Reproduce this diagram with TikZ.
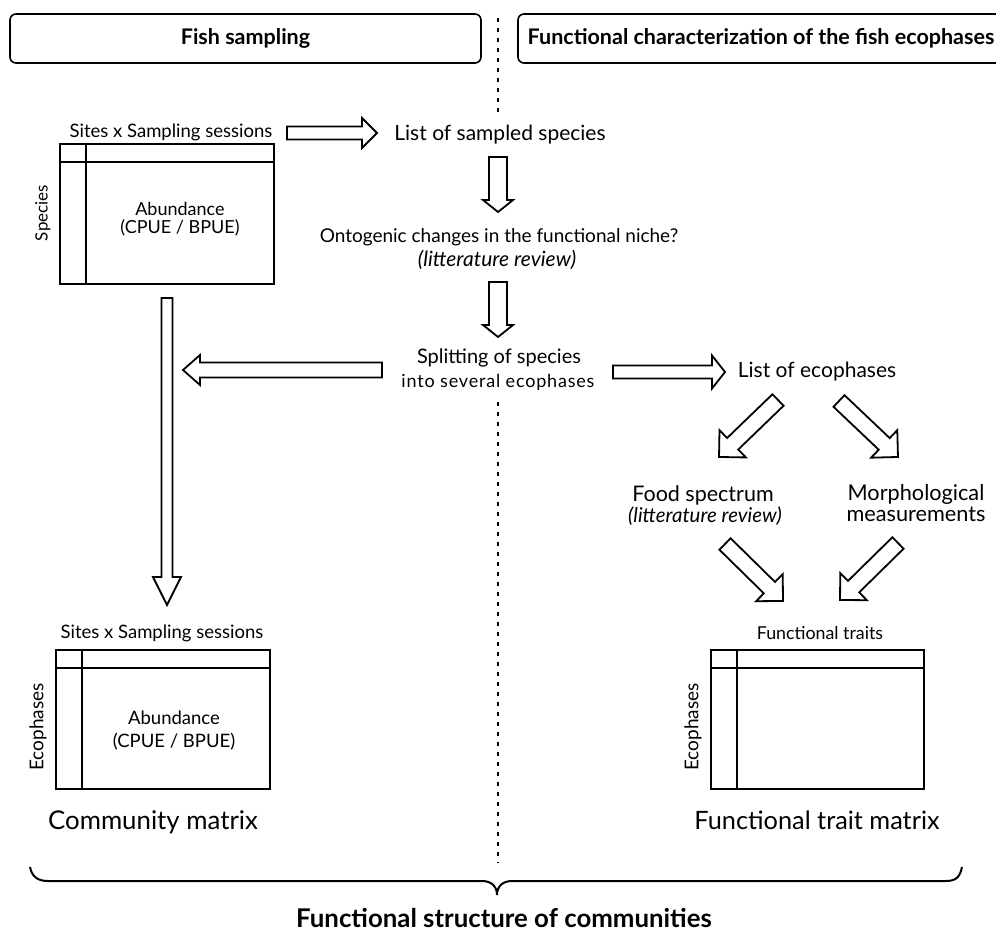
\documentclass[tikz,border=0pt]{standalone}
\usepackage{fontspec}
\setmainfont{Lato}
\usetikzlibrary{calc}

\tikzset{
  hdr/.style={draw, line width=1.6pt, rounded corners=6pt, font=\bfseries\fontsize{21.5}{24}\selectfont, inner sep=0pt, minimum height=49pt},
  txt/.style={align=center, font=\fontsize{21}{24}\selectfont, inner sep=0pt},
  txtsm/.style={align=center, font=\fontsize{18.5}{21}\selectfont, inner sep=0pt},
  txtbig/.style={align=center, font=\fontsize{25.3}{28}\selectfont, inner sep=0pt},
  itx/.style={align=center, font=\itshape\fontsize{21}{24}\selectfont, inner sep=0pt},
  mat/.style={draw, line width=2.4pt, inner sep=0pt},
  gridline/.style={line width=2.4pt},
  barrow/.style={draw, line width=1.8pt, fill=white, line join=miter},
  sepline/.style={line width=2.6pt, dash pattern=on 4pt off 6pt},
  bracestyle/.style={line width=2pt},
}

\newcommand\blockarrow[5]{%
  \path let \p1=(#1), \p2=(#2), \n1={atan2(\y2-\y1,\x2-\x1)}, \n2={veclen(\x2-\x1,\y2-\y1)} in \pgfextra{\xdef\baang{\n1}\xdef\balen{\n2}};
  \draw[barrow, shift={(#1)}, rotate=\baang] (0,-#3) -- ({\balen-#5},-#3) -- ({\balen-#5},-#4) -- (\balen,0) -- ({\balen-#5},#4) -- ({\balen-#5},#3) -- (0,#3) -- cycle;
}

\begin{document}
\begin{tikzpicture}[x=1pt, y=1pt]
\useasboundingbox (0,0) rectangle (996,-936);

% separator
\coordinate (s1a) at (498,-18);
\coordinate (s1b) at (498,-115);
\coordinate (s2a) at (498,-402);
\coordinate (s2b) at (498,-863);
\draw[sepline] (s1a) -- (s1b);
\draw[sepline] (s2a) -- (s2b);

% headers
\node[hdr, minimum width=471pt] (h1) at (245.5,-38.5) {Fish sampling};
\node[hdr, minimum width=486pt] (h2) at (761,-38.5) {Functional characterization of the fish ecophases};

% matrix 1
\node[mat, minimum width=214pt, minimum height=140pt] (m1) at (167,-214) {};
\draw[gridline] (86,-144) -- (86,-284);
\draw[gridline] (60,-162) -- (274,-162);
\node[txtsm] (m1top) at (171,-132) {Sites x Sampling sessions};
\node[txtsm, font=\fontsize{17}{19}\selectfont, rotate=90] (m1side) at (43,-213) {Species};
\node[txtsm, font=\fontsize{18}{18.5}\selectfont] (m1in) at (180,-219) {Abundance\\(CPUE / BPUE)};

% center column
\node[txt] (lss) at (500,-135) {List of sampled species};
\node[txt, font=\fontsize{19}{22}\selectfont] (onto) at (499,-237) {Ontogenic changes in the functional niche?};
\node[itx] (onto2) at (497,-260) {(litterature review)};
\node[txt, font=\fontsize{20}{23}\selectfont] (split) at (499,-358) {Splitting of species};
\node[txt, font=\fontsize{18}{21}\selectfont] (split2) at (498,-382) {\addfontfeature{LetterSpace=4.5}into several ecophases};

% right column
\node[txt] (loe) at (817,-372) {List of ecophases};
\node[txt, font=\fontsize{21.5}{24}\selectfont] (food) at (703,-495) {Food spectrum};
\node[itx, font=\itshape\fontsize{20.4}{23}\selectfont] (food2) at (705,-516) {(litterature review)};
\node[txt, font=\fontsize{21.7}{21}\selectfont] (morph) at (916,-503) {Morphological\\measurements};

% matrix 2
\node[mat, minimum width=214pt, minimum height=139pt] (m2) at (163,-719.5) {};
\draw[gridline] (82,-650) -- (82,-789);
\draw[gridline] (56,-668) -- (270,-668);
\node[txtsm] (m2top) at (162,-633) {Sites x Sampling sessions};
\node[txtsm, font=\fontsize{19}{22}\selectfont, rotate=90] (m2side) at (38,-727) {Ecophases};
\node[txtsm] (m2in1) at (174,-718) {Abundance};
\node[txtsm] (m2in2) at (174,-742) {(CPUE / BPUE)};
\node[txtbig, font=\fontsize{25.8}{28}\selectfont] (cm) at (153,-822) {Community matrix};

% matrix 3
\node[mat, minimum width=213pt, minimum height=139pt] (m3) at (817.5,-719.5) {};
\draw[gridline] (737,-650) -- (737,-789);
\draw[gridline] (711,-668) -- (924,-668);
\node[txtsm, font=\fontsize{17.8}{21}\selectfont] (m3top) at (820,-633) {Functional traits};
\node[txtsm, font=\fontsize{19}{22}\selectfont, rotate=90] (m3side) at (693,-727) {Ecophases};
\node[txtbig] (ftm) at (817,-820) {Functional trait matrix};

% arrows
\coordinate (a1s) at (287,-133); \coordinate (a1e) at (377,-133);
\coordinate (a2s) at (498,-157); \coordinate (a2e) at (498,-212);
\coordinate (a3s) at (498,-282); \coordinate (a3e) at (498,-337);
\coordinate (a4s) at (382,-370); \coordinate (a4e) at (183,-370);
\coordinate (a5s) at (613,-372); \coordinate (a5e) at (725,-372);
\coordinate (a6s) at (167,-298); \coordinate (a6e) at (167,-605);
\coordinate (d1s) at (778,-400); \coordinate (d1e) at (719,-457);
\coordinate (d2s) at (839,-401); \coordinate (d2e) at (898,-457);
\coordinate (d3s) at (725,-544); \coordinate (d3e) at (783,-601);
\coordinate (d4s) at (898,-543); \coordinate (d4e) at (840,-600);
\blockarrow{a1s}{a1e}{6.5}{15}{15}
\blockarrow{a2s}{a2e}{9}{15}{12}
\blockarrow{a3s}{a3e}{9}{15}{12}
\blockarrow{a4s}{a4e}{7.5}{15}{17}
\blockarrow{a5s}{a5e}{6.5}{16.5}{13}
\blockarrow{a6s}{a6e}{5.5}{14}{28}
\blockarrow{d1s}{d1e}{8}{19}{19}
\blockarrow{d2s}{d2e}{8}{19}{19}
\blockarrow{d3s}{d3e}{8}{19}{19}
\blockarrow{d4s}{d4e}{8}{19}{19}

% brace
\coordinate (bl) at (30,-867);
\coordinate (bt) at (497,-895);
\coordinate (br) at (962,-867);
\draw[bracestyle] (bl) .. controls (32,-877) and (38,-881) .. (48,-881) -- (482,-881)
  .. controls (491,-881) and (497,-886) .. (bt)
  .. controls (497,-886) and (503,-881) .. (512,-881) -- (946,-881)
  .. controls (956,-881) and (960,-877) .. (br);
\node[font=\bfseries\fontsize{25.8}{29}\selectfont, inner sep=0pt] (fsc) at (504,-918) {Functional structure of communities};
\end{tikzpicture}
\end{document}
